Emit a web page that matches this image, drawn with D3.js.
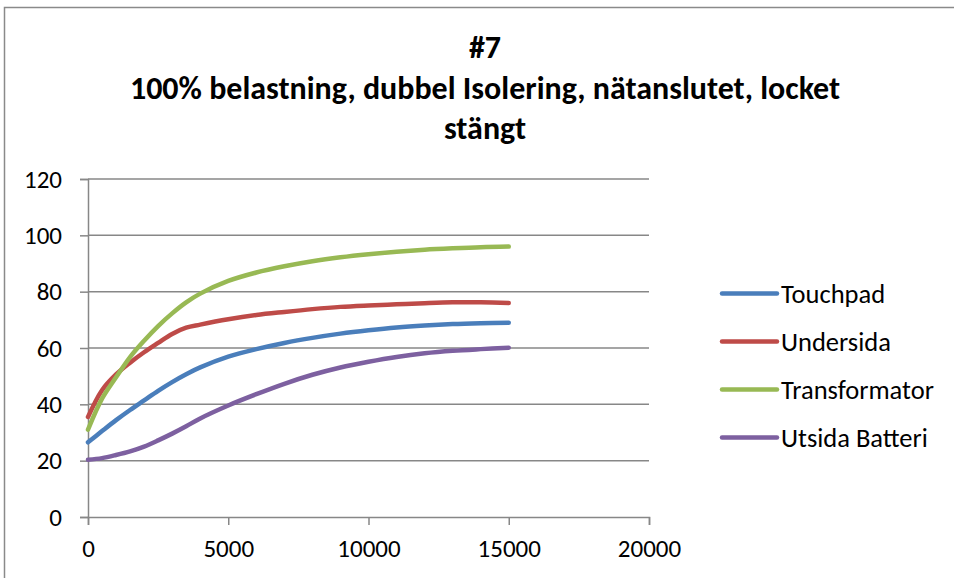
<!DOCTYPE html>
<html>
<head>
<meta charset="utf-8">
<script src="https://cdn.jsdelivr.net/npm/d3@7"></script>
<style>
  html, body { margin: 0; padding: 0; background: #fff; }
  svg { display: block; }
  text { font-family: Carlito, Lato, "Open Sans", sans-serif; fill: #000; }
</style>
</head>
<body>
<svg id="chart" width="954" height="578"></svg>
<script>
// Elapsed time (s) at each reading
const times = [0, 500, 1000, 1500, 2000, 2500, 3000, 3500, 4000, 5000, 6000, 7000, 8000, 9000, 10000, 11000, 12000, 13000, 14000, 15000];

// Temperature readings (°C) per measuring point
const touchpad      = [26.5, 30.5, 34.4, 38.0, 41.4, 44.8, 47.9, 50.7, 53.1, 56.9, 59.6, 61.8, 63.6, 65.1, 66.3, 67.3, 68.0, 68.5, 68.8, 69.0];
const undersida     = [35.5, 45.0, 50.6, 54.8, 58.5, 61.8, 65.0, 67.2, 68.3, 70.2, 71.7, 72.8, 73.8, 74.6, 75.1, 75.5, 75.9, 76.2, 76.2, 76.0];
const transformator = [31.0, 42.0, 49.6, 56.8, 62.6, 67.8, 72.3, 76.2, 79.3, 83.8, 86.8, 89.0, 90.8, 92.2, 93.3, 94.2, 94.9, 95.4, 95.8, 96.0];
const utsidaBatteri = [20.3, 20.9, 22.0, 23.3, 25.0, 27.2, 29.6, 32.2, 35.0, 39.6, 43.6, 47.3, 50.5, 53.1, 55.1, 56.8, 58.1, 59.0, 59.6, 60.1];

const seriesNames  = ["Touchpad", "Undersida", "Transformator", "Utsida Batteri"];
const seriesValues = [touchpad, undersida, transformator, utsidaBatteri];
const seriesColors = ["#4A7EBB", "#BE4B48", "#98B954", "#7D60A0"];

const xTicks = [0, 5000, 10000, 15000, 20000];
const yTicks = [0, 20, 40, 60, 80, 100, 120];
const titleLines = ["#7", "100% belastning, dubbel Isolering, nätanslutet, locket", "stängt"];

const svg = d3.select("#chart");

// Outer chart frame
svg.append("rect")
  .attr("x", 4.5).attr("y", 7.5)
  .attr("width", 970).attr("height", 600)
  .attr("fill", "none").attr("stroke", "#8a8a8a").attr("stroke-width", 1.5);

const plot = { left: 88, right: 649, top: 179, bottom: 517 };

const x = d3.scaleLinear().domain([0, 20000]).range([plot.left, plot.right]);
const y = d3.scaleLinear().domain([0, 120]).range([plot.bottom, plot.top]);

// Horizontal gridlines
svg.append("g")
  .selectAll("line")
  .data(yTicks.filter(d => d > 0))
  .join("line")
  .attr("x1", plot.left).attr("x2", plot.right)
  .attr("y1", d => y(d)).attr("y2", d => y(d))
  .attr("stroke", "#878787").attr("stroke-width", 1.5);

// Y axis
const yAxis = svg.append("g")
  .attr("transform", `translate(${plot.left},0)`)
  .call(d3.axisLeft(y).tickValues(yTicks).tickSize(8).tickPadding(18).tickFormat(d3.format("d")));

// X axis
const xAxis = svg.append("g")
  .attr("transform", `translate(0,${plot.bottom})`)
  .call(d3.axisBottom(x).tickValues(xTicks).tickSize(8).tickPadding(14).tickFormat(d3.format("d")));

[yAxis, xAxis].forEach(g => {
  g.select(".domain").attr("stroke", "#878787").attr("stroke-width", 1.5);
  g.selectAll(".tick line").attr("stroke", "#878787").attr("stroke-width", 1.5);
  g.selectAll(".tick text").attr("font-size", 25).attr("fill", "#000")
    .style("font-family", "Carlito, Lato, 'Open Sans', sans-serif");
});

// Series lines
const line = d3.line()
  .x((d, i) => x(times[i]))
  .y(d => y(d))
  .curve(d3.curveCatmullRom.alpha(0.5));

svg.append("g")
  .selectAll("path")
  .data(seriesValues)
  .join("path")
  .attr("d", d => line(d))
  .attr("fill", "none")
  .attr("stroke", (d, i) => seriesColors[i])
  .attr("stroke-width", 4.5)
  .attr("stroke-linecap", "round")
  .attr("stroke-linejoin", "round");

// Legend
const legend = svg.append("g")
  .selectAll("g")
  .data(seriesNames)
  .join("g")
  .attr("transform", (d, i) => `translate(722,${293.5 + i * 48})`);

legend.append("line")
  .attr("x1", 0).attr("x2", 55)
  .attr("stroke", (d, i) => seriesColors[i])
  .attr("stroke-width", 4.5)
  .attr("stroke-linecap", "round");

legend.append("text")
  .attr("x", 59).attr("dy", "0.35em")
  .attr("font-size", 26.5)
  .text(d => d);

// Title
svg.append("g")
  .selectAll("text")
  .data(titleLines)
  .join("text")
  .attr("x", 485)
  .attr("y", (d, i) => 47 + i * 40.5)
  .attr("dy", "0.35em")
  .attr("text-anchor", "middle")
  .attr("font-size", 32)
  .attr("font-weight", "bold")
  .text(d => d);
</script>
</body>
</html>
